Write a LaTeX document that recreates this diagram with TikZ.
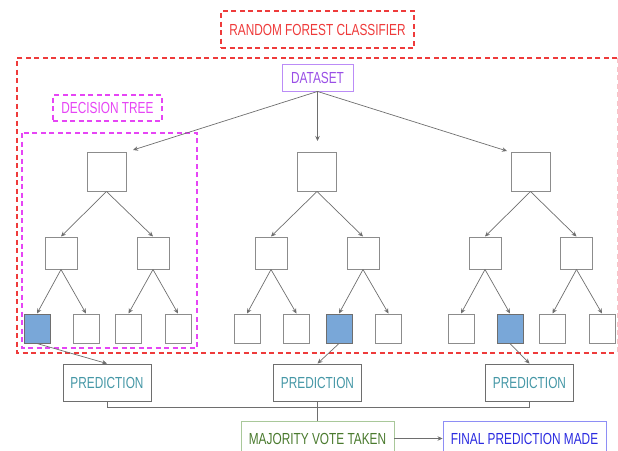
\documentclass[tikz,border=0pt]{standalone}
\usepackage{fontspec}
\setmainfont{Liberation Sans}[FakeStretch=0.74]
\usetikzlibrary{arrows.meta}
\definecolor{rfred}{HTML}{EE3B3B}
\definecolor{rfredlight}{HTML}{F7C4C8}
\definecolor{dtpink}{HTML}{E645F5}
\definecolor{dspurple}{HTML}{9A4FE6}
\definecolor{dsborder}{HTML}{BB8CF7}
\definecolor{predteal}{HTML}{4597A6}
\definecolor{mjgreen}{HTML}{4A7A2E}
\definecolor{mjborder}{HTML}{A9C89A}
\definecolor{fpblue}{HTML}{2B2BE0}
\definecolor{fpborder}{HTML}{8E8EF5}
\definecolor{leafblue}{HTML}{79A7D8}
\definecolor{boxgrey}{HTML}{8C8C8C}
\definecolor{arrgrey}{HTML}{6E6E6E}
\tikzset{
  lbl/.style={font=\fontsize{16}{19}\selectfont, inner sep=0pt, align=center},
  reddash/.style={draw=rfred, line width=1.1pt, dash pattern=on 5pt off 3.5pt},
  pinkdash/.style={draw=dtpink, line width=1.1pt, dash pattern=on 5pt off 3.5pt},
  rootbox/.style={draw=boxgrey, line width=1pt, minimum width=39pt, minimum height=39pt, inner sep=0pt},
  midbox/.style={draw=boxgrey, line width=1pt, minimum width=32pt, minimum height=32pt, inner sep=0pt},
  leafbox/.style={draw=boxgrey, line width=1pt, minimum width=26pt, minimum height=29pt, inner sep=0pt},
  selleaf/.style={leafbox, fill=leafblue, draw=arrgrey},
  predbox/.style={lbl, draw=arrgrey, line width=0.9pt, text=predteal, minimum width=88pt, minimum height=37pt},
  arr/.style={draw=arrgrey, line width=0.7pt, -{Stealth[length=5pt,width=4.5pt]}},
  conn/.style={draw=arrgrey, line width=0.7pt},
}
\begin{document}
\begin{tikzpicture}[x=1pt,y=-1pt]
\useasboundingbox (0,0) rectangle (618,450);
% title
\node[lbl, reddash, text=rfred, minimum width=193pt, minimum height=37pt] (title) at (317.5,29.5) {RANDOM FOREST CLASSIFIER};
% outer forest frame (right edge is faint at the page border)
\draw[reddash] (617.3,58) -- (17,58) -- (17,353) -- (617.3,353);
\draw[reddash, draw=rfredlight] (617.3,58) -- (617.3,353);
% decision tree frame
\draw[pinkdash] (22,133) rectangle (197,348);
\node[lbl, pinkdash, text=dtpink, minimum width=109pt, minimum height=26pt] (dt) at (107.5,108) {DECISION TREE};
% dataset
\node[lbl, draw=dsborder, line width=0.9pt, text=dspurple, minimum width=71pt, minimum height=27pt] (ds) at (317.5,77.5) {DATASET};

% tree 1
\node[rootbox] (r1) at (106.5,171.5) {};
\node[midbox] (m11) at (61,253) {};
\node[midbox] (m12) at (153,253) {};
\node[selleaf] (l11) at (37,328.5) {};
\node[leafbox] (l12) at (86,328.5) {};
\node[leafbox] (l13) at (128.5,328.5) {};
\node[leafbox] (l14) at (178,328.5) {};
% tree 2
\node[rootbox] (r2) at (317,171.5) {};
\node[midbox] (m21) at (271,253) {};
\node[midbox] (m22) at (363,253) {};
\node[leafbox] (l21) at (247,328.5) {};
\node[leafbox] (l22) at (296.5,328.5) {};
\node[selleaf] (l23) at (339,328.5) {};
\node[leafbox] (l24) at (388.5,328.5) {};
% tree 3
\node[rootbox] (r3) at (530.5,171.5) {};
\node[midbox] (m31) at (485,253) {};
\node[midbox] (m32) at (576.5,253) {};
\node[leafbox] (l31) at (461,328.5) {};
\node[selleaf] (l32) at (510,328.5) {};
\node[leafbox] (l33) at (552.5,328.5) {};
\node[leafbox] (l34) at (602,328.5) {};

% dataset arrows
\coordinate (a1) at (133,150);
\coordinate (a2) at (317.5,141);
\coordinate (a3) at (507,151);
\draw[arr] (ds.south) -- (a1);
\draw[arr] (ds.south) -- (a2);
\draw[arr] (ds.south) -- (a3);

% tree arrows
\foreach \t in {1,2,3}{
  \draw[arr] (r\t.south) -- (m\t1.north);
  \draw[arr] (r\t.south) -- (m\t2.north);
  \draw[arr] (m\t1.south) -- (l\t1.north);
  \draw[arr] (m\t1.south) -- (l\t2.north);
  \draw[arr] (m\t2.south) -- (l\t3.north);
  \draw[arr] (m\t2.south) -- (l\t4.north);
}

% predictions
\node[predbox] (p1) at (107,382.5) {PREDICTION};
\node[predbox] (p2) at (317.5,382.5) {PREDICTION};
\node[predbox] (p3) at (529.5,382.5) {PREDICTION};
\draw[arr] (l11.south) -- (p1.north);
\draw[arr] (l23.south) -- (p2.north);
\draw[arr] (l32.south) -- (p3.north);

% majority & final
\node[lbl, draw=mjborder, line width=0.9pt, text=mjgreen, minimum width=153pt, minimum height=35pt] (mj) at (317.5,438.5) {MAJORITY VOTE TAKEN};
\node[lbl, draw=fpborder, line width=0.9pt, text=fpblue, minimum width=163pt, minimum height=35pt] (fp) at (524.5,438.5) {FINAL PREDICTION MADE};

\coordinate (j) at (317.5,407);
\draw[conn] (p1.south) |- (j);
\draw[conn] (p3.south) |- (j);
\draw[conn] (p2.south) -- (mj.north);
\draw[arr] (mj.east) -- (fp.west);
\end{tikzpicture}
\end{document}
